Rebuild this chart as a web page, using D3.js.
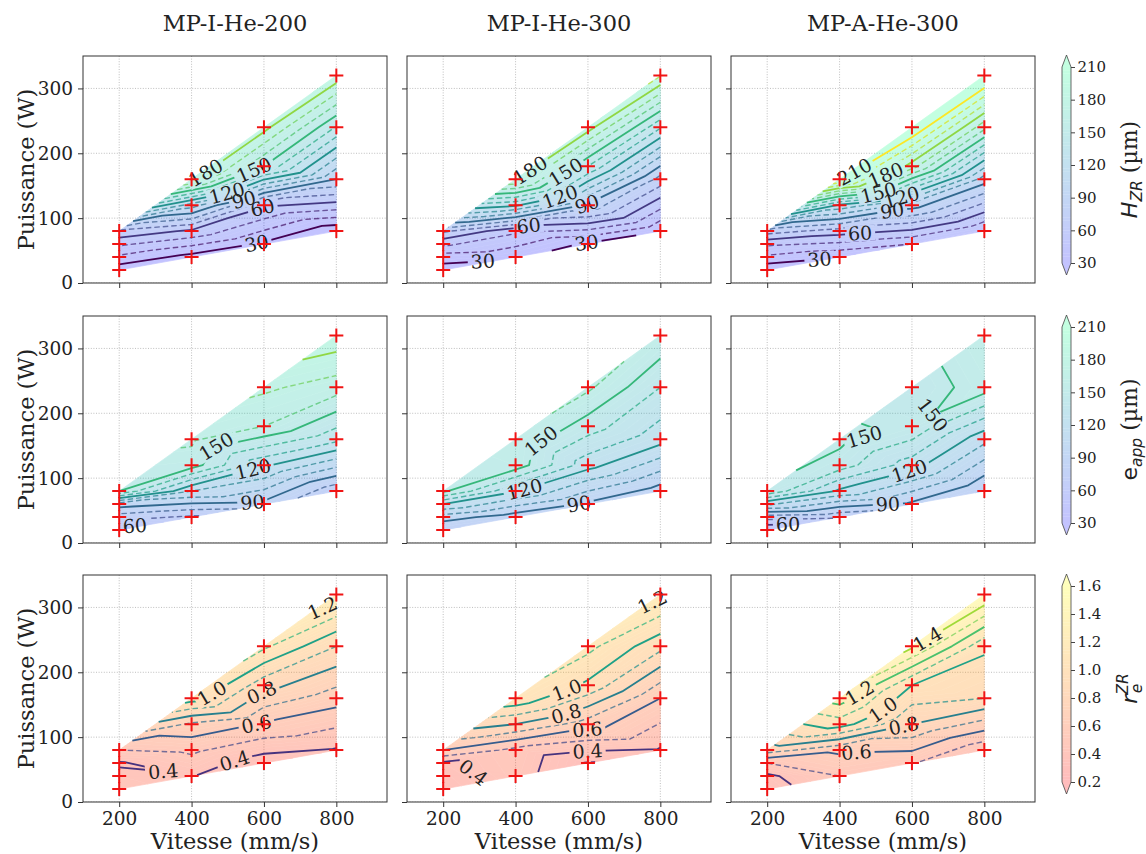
<!DOCTYPE html>
<html><head><meta charset="utf-8">
<script src="https://cdn.jsdelivr.net/npm/d3@7"></script>
<style>
body{margin:0;background:#fff;}
svg{display:block;}
text{font-family:"DejaVu Serif",serif;fill:#222;}
</style>
</head><body>
<svg id="chart" width="1146" height="854"></svg>
<script>
// ---------------- DATA ----------------
const speeds = [200, 400, 600, 800];          // Vitesse (mm/s)
const ratios = [0.1, 0.2, 0.3, 0.4];          // Puissance = Vitesse * ratio (W)
const columnTitles = ["MP-I-He-200", "MP-I-He-300", "MP-A-He-300"];
const xTicks = [200, 400, 600, 800];
const yTicks = [0, 100, 200, 300];
const cbTicksUm = [30, 60, 90, 120, 150, 180, 210];
const cbTicksR = [0.2, 0.4, 0.6, 0.8, 1.0, 1.2, 1.4, 1.6];

// values[speedIndex][ratioIndex]
const hzrI200 = [[24,38,52,68],[26,58,105,183],[28,62,150,184],[22,90,139,187]];
const hzrI300 = [[25,35,52,72],[32,52,122,181],[28,88,140,185],[31,76,131,191]];
const hzrA300 = [[22,38,52,75],[31,65,118,212],[40,95,175,222],[40,95,163,225]];
const eappI200 = [[55,75,95,150],[68,110,155,162],[87,122,160,172],[72,133,165,187]];
const eappI300 = [[80,95,120,152],[84,121,156,158],[88,124,145,162],[85,124,140,158]];
const eappA300 = [[50,75,112,148],[72,118,145,153],[88,125,148,143],[80,113,155,160]];
const reI200 = [[0.43,0.42,0.39,0.50],[0.405,0.52,0.68,1.05],[0.34,0.59,0.84,1.12],[0.39,0.645,0.90,1.25]];
const reI300 = [[0.33,0.35,0.38,0.60],[0.45,0.47,0.80,1.08],[0.29,0.65,0.98,1.13],[0.39,0.60,0.93,1.22]];
const reA300 = [[0.35,0.38,0.50,0.75],[0.50,0.62,1.05,1.25],[0.51,0.80,1.00,1.42],[0.42,0.90,1.02,1.50]];

// contour label anchors: [level, vitesse, puissance]
const lblHzrI200 = [[30,580,61],[60,594,120],[90,543,133],[120,497,141],[150,571,177],[180,395,165]];
const lblHzrI300 = [[30,335,35],[30,596,67],[60,436,88],[90,596,123],[120,523,133],[150,541,169],[180,413,162]];
const lblHzrA300 = [[30,388,38],[60,457,74],[90,545,113],[120,572,131],[150,512,133],[180,522,174],[210,439,164]];
const lblEappI200 = [[60,281,29],[90,568,63],[120,568,119],[150,471,142]];
const lblEappI300 = [[90,575,61],[120,427,78],[150,487,139]];
const lblEappA300 = [[60,285,29],[90,533,65],[120,588,122],[150,478,145],[150,597,222]];
const lblReI200 = [[0.4,321,42],[0.4,516,68],[0.6,579,122],[0.8,598,165],[1.0,461,163],[1.2,802,306]];
const lblReI300 = [[0.4,307,50],[0.4,599,78],[0.6,599,106],[0.8,544,129],[1.0,540,175],[1.2,800,319]];
const lblReA300 = [[0.6,446,91],[0.8,578,116],[1.0,528,137],[1.2,460,163],[1.4,656,239]];

// ---------------- LAYOUT ----------------
const W = 304, H = 227;
const colLeft = [83, 407, 731];
const rowTop = [56, 316, 575];
const xDomain = [100, 940], yDomain = [0, 350];

const clamp01 = t => Math.max(0, Math.min(1, t));
const winter = t => { t = clamp01(t); return d3.rgb(0, 255 * t, 255 * (1 - 0.5 * t)).formatHex(); };
const autumn = t => { t = clamp01(t); return d3.rgb(255, 255 * t, 0).formatHex(); };

const rowsCfg = [
  { panels: [hzrI200, hzrI300, hzrA300], labels: [lblHzrI200, lblHzrI300, lblHzrA300],
    cmap: winter, alpha: 0.23, lo: 30, hi: 210, step: 10, solid: 30, fillStep: 3,
    fmt: d3.format("d"), cbTicks: cbTicksUm, cbFmt: d3.format("d"), cbLabel: "hzr" },
  { panels: [eappI200, eappI300, eappA300], labels: [lblEappI200, lblEappI300, lblEappA300],
    cmap: winter, alpha: 0.23, lo: 30, hi: 210, step: 10, solid: 30, fillStep: 3,
    fmt: d3.format("d"), cbTicks: cbTicksUm, cbFmt: d3.format("d"), cbLabel: "eapp" },
  { panels: [reI200, reI300, reA300], labels: [lblReI200, lblReI300, lblReA300],
    cmap: autumn, alpha: 0.26, lo: 0.2, hi: 1.6, step: 0.1, solid: 0.2, fillStep: 0.02,
    fmt: d3.format(".1f"), cbTicks: cbTicksR, cbFmt: d3.format(".1f"), cbLabel: "re" }
];

const svg = d3.select("#chart");
const defs = svg.append("defs");

// ---------------- CONTOUR HELPERS ----------------
function contourLines(P, tris, level) {
  const segs = [];
  for (const t of tris) {
    const cr = [];
    for (let k = 0; k < 3; k++) {
      const i = t[k], j = t[(k + 1) % 3];
      const a = P[i], b = P[j];
      if ((a.v >= level) !== (b.v >= level)) {
        const u = (level - a.v) / (b.v - a.v);
        cr.push({ key: i < j ? i + "-" + j : j + "-" + i, x: a.x + u * (b.x - a.x), y: a.y + u * (b.y - a.y) });
      }
    }
    if (cr.length === 2) segs.push(cr);
  }
  const byKey = new Map();
  segs.forEach((s, si) => s.forEach(e => { if (!byKey.has(e.key)) byKey.set(e.key, []); byKey.get(e.key).push(si); }));
  const used = new Array(segs.length).fill(false);
  const lines = [];
  const follow = (si, entry) => {
    const path = [segs[si][entry]];
    let cur = si, exit = 1 - entry;
    for (;;) {
      used[cur] = true;
      const ep = segs[cur][exit];
      path.push(ep);
      const nx = byKey.get(ep.key).find(k => !used[k]);
      if (nx === undefined) break;
      const ei = segs[nx][0].key === ep.key ? 0 : 1;
      cur = nx; exit = 1 - ei;
    }
    return path;
  };
  segs.forEach((s, si) => {
    for (let e = 0; e < 2; e++) if (!used[si] && byKey.get(s[e].key).length === 1) lines.push(follow(si, e));
  });
  segs.forEach((s, si) => { if (!used[si]) lines.push(follow(si, 0)); });
  return lines;
}
function clipPoly(poly, level, keepAbove) {
  const out = [];
  for (let k = 0; k < poly.length; k++) {
    const A = poly[k], B = poly[(k + 1) % poly.length];
    const ina = keepAbove ? A.v >= level : A.v < level;
    const inb = keepAbove ? B.v >= level : B.v < level;
    if (ina) out.push(A);
    if (ina !== inb) {
      const u = (level - A.v) / (B.v - A.v);
      out.push({ x: A.x + u * (B.x - A.x), y: A.y + u * (B.y - A.y), v: level });
    }
  }
  return out;
}
function bandPolys(P, tris, lo, hi) {
  const polys = [];
  for (const t of tris) {
    let poly = t.map(i => P[i]);
    if (lo > -Infinity) poly = clipPoly(poly, lo, true);
    if (poly.length >= 3 && hi < Infinity) poly = clipPoly(poly, hi, false);
    if (poly.length >= 3) polys.push(poly);
  }
  return polys;
}
function polyPath(polys) {
  return polys.map(p => "M" + p.map(q => q.x.toFixed(2) + "," + q.y.toFixed(2)).join("L") + "Z").join("");
}
function nearestOnLines(lines, ax, ay) {
  let best = null;
  lines.forEach((ln, li) => {
    let acc = 0;
    for (let k = 0; k < ln.length - 1; k++) {
      const a = ln[k], b = ln[k + 1];
      const dx = b.x - a.x, dy = b.y - a.y, L2 = dx * dx + dy * dy;
      const L = Math.sqrt(L2);
      let u = L2 > 0 ? ((ax - a.x) * dx + (ay - a.y) * dy) / L2 : 0;
      u = Math.max(0, Math.min(1, u));
      const px = a.x + u * dx, py = a.y + u * dy;
      const d = (px - ax) ** 2 + (py - ay) ** 2;
      if (!best || d < best.d) best = { d, li, s: acc + u * L };
      acc += L;
    }
  });
  return best;
}
function pointAt(ln, s) {
  let acc = 0;
  for (let k = 0; k < ln.length - 1; k++) {
    const a = ln[k], b = ln[k + 1];
    const L = Math.hypot(b.x - a.x, b.y - a.y);
    if (acc + L >= s || k === ln.length - 2) {
      const u = L > 0 ? Math.max(0, Math.min(1, (s - acc) / L)) : 0;
      return { x: a.x + u * (b.x - a.x), y: a.y + u * (b.y - a.y) };
    }
    acc += L;
  }
  return ln[0];
}
function lineLength(ln) { let a = 0; for (let k = 0; k < ln.length - 1; k++) a += Math.hypot(ln[k+1].x - ln[k].x, ln[k+1].y - ln[k].y); return a; }

const isMult = (v, m) => Math.abs(v / m - Math.round(v / m)) < 1e-6;

// ---------------- DRAW ----------------
rowsCfg.forEach((cfg, r) => {
  const y0 = rowTop[r];
  const nLines = Math.round((cfg.hi - cfg.lo) / cfg.step);
  const lineLevels = d3.range(0, nLines + 1).map(k => +(cfg.lo + k * cfg.step).toFixed(6));
  const nFill = Math.round((cfg.hi - cfg.lo) / cfg.fillStep);
  const fillLevels = d3.range(0, nFill + 1).map(k => +(cfg.lo + k * cfg.fillStep).toFixed(6));
  const bands = [{ lo: -Infinity, hi: fillLevels[0], c: cfg.cmap(0) }];
  for (let k = 0; k < fillLevels.length - 1; k++) {
    const mid = (fillLevels[k] + fillLevels[k + 1]) / 2;
    bands.push({ lo: fillLevels[k], hi: fillLevels[k + 1], c: cfg.cmap((mid - cfg.lo) / (cfg.hi - cfg.lo)) });
  }
  bands.push({ lo: fillLevels[fillLevels.length - 1], hi: Infinity, c: cfg.cmap(1) });
  const lineColor = L => d3.interpolateViridis(clamp01((L - cfg.lo) / (cfg.hi - cfg.lo)));

  cfg.panels.forEach((vals, c) => {
    const x0 = colLeft[c];
    const xs = d3.scaleLinear().domain(xDomain).range([x0, x0 + W]);
    const ys = d3.scaleLinear().domain(yDomain).range([y0 + H, y0]);
    const g = svg.append("g");
    const clipId = `clip-${r}-${c}`;
    defs.append("clipPath").attr("id", clipId).append("rect")
      .attr("x", x0).attr("y", y0).attr("width", W).attr("height", H);

    // grid
    const grid = g.append("g").attr("clip-path", `url(#${clipId})`)
      .attr("stroke", "#b8b8b8").attr("stroke-width", 0.9).attr("stroke-dasharray", "1,1.6");
    xTicks.forEach(t => grid.append("line").attr("x1", xs(t)).attr("x2", xs(t)).attr("y1", y0).attr("y2", y0 + H));
    yTicks.forEach(t => grid.append("line").attr("x1", x0).attr("x2", x0 + W).attr("y1", ys(t)).attr("y2", ys(t)));

    // points
    const pts = [];
    speeds.forEach((s, i) => ratios.forEach((q, j) => {
      const p = Math.round(s * q);
      pts.push({ s, p, v: vals[i][j], x: xs(s), y: ys(p) });
    }));
    const del = d3.Delaunay.from(pts, d => d.s, d => d.p);
    const tris = [];
    for (let t = 0; t < del.triangles.length / 3; t++) {
      const tri = [del.triangles[3 * t], del.triangles[3 * t + 1], del.triangles[3 * t + 2]];
      const [A, B, C] = tri.map(i => pts[i]);
      const area = Math.abs((B.s - A.s) * (C.p - A.p) - (C.s - A.s) * (B.p - A.p));
      if (area > 1e-6) tris.push(tri);
    }

    // filled bands
    const fillG = g.append("g").attr("opacity", cfg.alpha);
    bands.forEach(b => {
      const polys = bandPolys(pts, tris, b.lo, b.hi);
      if (!polys.length) return;
      fillG.append("path").attr("d", polyPath(polys)).attr("fill", b.c)
        .attr("stroke", b.c).attr("stroke-width", 0.7).attr("stroke-linejoin", "round");
    });

    // contour lines
    const maskId = `mask-${r}-${c}`;
    const mask = defs.append("mask").attr("id", maskId).attr("maskUnits", "userSpaceOnUse")
      .attr("x", x0 - 5).attr("y", y0 - 5).attr("width", W + 10).attr("height", H + 10);
    mask.append("rect").attr("x", x0 - 5).attr("y", y0 - 5).attr("width", W + 10).attr("height", H + 10).attr("fill", "white");
    const linesG = g.append("g").attr("mask", `url(#${maskId})`).attr("fill", "none");
    const lineGen = d3.line().x(d => d.x).y(d => d.y);
    const levelLines = new Map();
    lineLevels.forEach(L => {
      const lines = contourLines(pts, tris, L);
      levelLines.set(L, lines);
      const solid = isMult(L, cfg.solid);
      lines.forEach(ln => {
        linesG.append("path").attr("d", lineGen(ln))
          .attr("stroke", lineColor(L))
          .attr("stroke-width", solid ? 1.8 : 1.4)
          .attr("stroke-opacity", solid ? 1 : 0.72)
          .attr("stroke-dasharray", solid ? null : "5.5,3")
          .attr("stroke-linejoin", "round");
      });
    });

    // contour labels
    const labG = g.append("g");
    cfg.labels[c].forEach(([L, s, p]) => {
      const lines = levelLines.get(+L.toFixed(6));
      if (!lines || !lines.length) return;
      const best = nearestOnLines(lines, xs(s), ys(p));
      if (!best) return;
      const ln = lines[best.li];
      const txt = labG.append("text").attr("font-size", 19).attr("text-anchor", "middle")
        .attr("dy", "0.35em").attr("fill", "#1a1a1a").text(cfg.fmt(L));
      const w = txt.node().getComputedTextLength();
      const len = lineLength(ln);
      let s0 = Math.max(Math.min(best.s, len - w / 2), w / 2);
      if (len < w) s0 = len / 2;
      const pa = pointAt(ln, s0 - w / 2), pb = pointAt(ln, s0 + w / 2), pc = pointAt(ln, s0);
      let ang = Math.atan2(pb.y - pa.y, pb.x - pa.x) * 180 / Math.PI;
      if (ang > 90) ang -= 180;
      if (ang < -90) ang += 180;
      txt.attr("transform", `translate(${pc.x},${pc.y}) rotate(${ang})`);
      mask.append("rect").attr("x", -w / 2 - 3).attr("y", -8).attr("width", w + 6).attr("height", 16)
        .attr("fill", "black").attr("transform", `translate(${pc.x},${pc.y}) rotate(${ang})`);
    });

    // markers
    g.append("g").selectAll("path").data(pts).join("path")
      .attr("d", "M-7,0H7M0,-7V7")
      .attr("transform", d => `translate(${d.x},${d.y})`)
      .attr("stroke", "#f01414").attr("stroke-width", 2).attr("fill", "none");

    // frame
    g.append("rect").attr("x", x0).attr("y", y0).attr("width", W).attr("height", H)
      .attr("fill", "none").attr("stroke", "#333").attr("stroke-width", 1);

    // axes
    const xa = d3.axisBottom(xs).tickValues(xTicks).tickSize(5).tickPadding(5).tickSizeOuter(0);
    if (r < 2) xa.tickFormat("");
    const gx = g.append("g").attr("transform", `translate(0,${y0 + H})`).call(xa);
    const ya = d3.axisLeft(ys).tickValues(yTicks).tickSize(5).tickPadding(5).tickSizeOuter(0);
    if (c > 0) ya.tickFormat("");
    const gy = g.append("g").attr("transform", `translate(${x0},0)`).call(ya);
    [gx, gy].forEach(a => {
      a.select(".domain").remove();
      a.attr("font-family", "DejaVu Serif").attr("font-size", 18.5);
      a.selectAll("line").attr("stroke", "#333");
      a.selectAll("text").attr("fill", "#222");
    });

    if (r === 0) {
      svg.append("text").attr("x", x0 + W / 2).attr("y", 31).attr("text-anchor", "middle")
        .attr("font-size", 22.5).text(columnTitles[c]);
    }
    if (r === 2) {
      svg.append("text").attr("x", x0 + W / 2).attr("y", 849).attr("text-anchor", "middle")
        .attr("font-size", 22.5).text("Vitesse (mm/s)");
    }
    if (c === 0) {
      svg.append("text").attr("transform", `translate(34,${y0 + H / 2}) rotate(-90)`)
        .attr("text-anchor", "middle").attr("font-size", 22.5).text("Puissance (W)");
    }
  });

  // colorbar
  const cbX = 1062, cbW = 9, arrow = 12;
  const body0 = y0 - 1 + arrow, body1 = body0 + 196;
  const cs = d3.scaleLinear().domain([cfg.lo, cfg.hi]).range([body1, body0]);
  const cb = svg.append("g");
  const cbFill = cb.append("g").attr("opacity", cfg.alpha);
  bands.slice(1, -1).forEach(b => {
    cbFill.append("rect").attr("x", cbX).attr("width", cbW).attr("y", cs(b.hi)).attr("height", cs(b.lo) - cs(b.hi) + 0.3)
      .attr("fill", b.c);
  });
  cbFill.append("path").attr("d", `M${cbX},${body1}L${cbX + cbW},${body1}L${cbX + cbW / 2},${body1 + arrow}Z`).attr("fill", bands[0].c);
  cbFill.append("path").attr("d", `M${cbX},${body0}L${cbX + cbW},${body0}L${cbX + cbW / 2},${body0 - arrow}Z`).attr("fill", bands[bands.length - 1].c);
  cb.append("path").attr("d", `M${cbX + cbW / 2},${body0 - arrow}L${cbX + cbW},${body0}L${cbX + cbW},${body1}L${cbX + cbW / 2},${body1 + arrow}L${cbX},${body1}L${cbX},${body0}Z`)
    .attr("fill", "none").attr("stroke", "#444").attr("stroke-width", 0.8);
  const ca = d3.axisRight(cs).tickValues(cfg.cbTicks).tickFormat(cfg.cbFmt).tickSize(4).tickPadding(2.5).tickSizeOuter(0);
  const gca = cb.append("g").attr("transform", `translate(${cbX + cbW},0)`).call(ca);
  gca.select(".domain").remove();
  gca.attr("font-family", "DejaVu Serif").attr("font-size", 15);
  gca.selectAll("line").attr("stroke", "#444");
  gca.selectAll("text").attr("fill", "#222");

  // colorbar label
  const lab = svg.append("text").attr("transform", `translate(1137,${y0 + H / 2}) rotate(-90)`)
    .attr("text-anchor", "middle").attr("font-size", 22);
  if (cfg.cbLabel === "hzr") {
    lab.append("tspan").attr("font-family", "DejaVu Sans").attr("font-style", "italic").text("H");
    lab.append("tspan").attr("font-family", "DejaVu Sans").attr("font-style", "italic").attr("font-size", 15.5).attr("dy", 5).text("ZR");
    lab.append("tspan").attr("dy", -5).text(" (µm)");
  } else if (cfg.cbLabel === "eapp") {
    lab.append("tspan").attr("font-family", "DejaVu Sans").text("e");
    lab.append("tspan").attr("font-family", "DejaVu Sans").attr("font-style", "italic").attr("font-size", 15.5).attr("dy", 5).text("app");
    lab.append("tspan").attr("dy", -5).text(" (µm)");
  } else {
    lab.append("tspan").attr("font-family", "DejaVu Sans").attr("font-style", "italic").text("r");
    lab.append("tspan").attr("font-family", "DejaVu Sans").attr("font-style", "italic").attr("font-size", 15.5).attr("dy", -9).text("ZR");
    lab.append("tspan").attr("font-family", "DejaVu Sans").attr("font-style", "italic").attr("font-size", 15.5).attr("dx", -20).attr("dy", 14).text("e");
  }
});
</script>
</body></html>
